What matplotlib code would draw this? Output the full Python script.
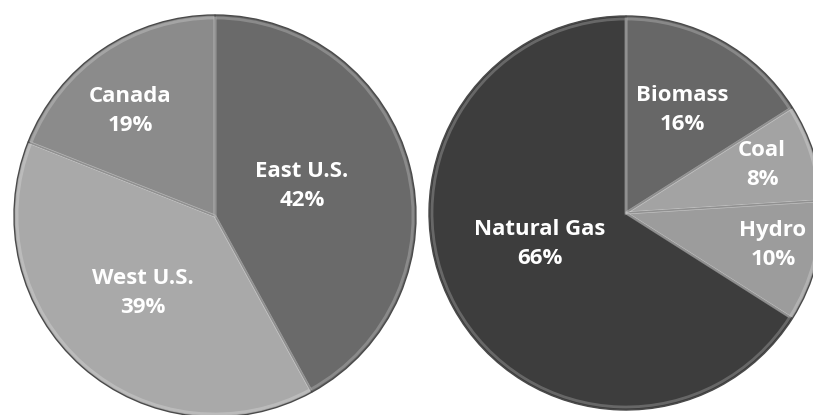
import matplotlib
matplotlib.use("Agg")
import matplotlib.pyplot as plt

region_labels = ["East U.S.", "West U.S.", "Canada"]
region_values = [42, 39, 19]
region_colors = ["#6a6a6a", "#a9a9a9", "#8b8b8b"]

fuel_labels = ["Biomass", "Coal", "Hydro", "Natural Gas"]
fuel_values = [16, 8, 10, 66]
fuel_colors = ["#676767", "#a3a3a3", "#9c9c9c", "#3d3d3d"]

W, H = 813, 415
fig = plt.figure(figsize=(W / 100, H / 100), dpi=100)
ax = fig.add_axes([0, 0, 1, 1])

# layout (pixel coordinates, y measured from top)
left_center = (215, 216)
left_radius = 201
right_center = (626, 213)
right_radius = 197
left_label_pos = [(302, 186), (143, 293), (130, 111)]
right_label_pos = [(682, 110), (762, 165), (773, 245), (540, 244)]


def draw(values, colors, labels, center, radius, label_pos):
    cx, cy = center[0], H - center[1]
    ax.pie(values, colors=colors, startangle=90, counterclock=False,
           center=(cx, cy), radius=radius,
           wedgeprops=dict(edgecolor="#4a4a4a", linewidth=1.0))
    # soft bevel highlight
    ax.pie(values, colors=["none"] * len(values), startangle=90, counterclock=False,
           center=(cx, cy), radius=radius - 3,
           wedgeprops=dict(edgecolor=(1, 1, 1, 0.22), linewidth=2.0, fill=False))
    for lab, v, (px, py) in zip(labels, values, label_pos):
        ax.text(px, H - py, f"{lab}\n{v}%", ha="center", va="center",
                color="white", fontsize=16, fontweight="bold", family="Open Sans",
                linespacing=1.55)


draw(region_values, region_colors, region_labels, left_center, left_radius, left_label_pos)
draw(fuel_values, fuel_colors, fuel_labels, right_center, right_radius, right_label_pos)

ax.set_xlim(0, W)
ax.set_ylim(0, H)
ax.set_aspect("equal")
ax.axis("off")
fig.savefig("out.png", dpi=100, facecolor="white")
